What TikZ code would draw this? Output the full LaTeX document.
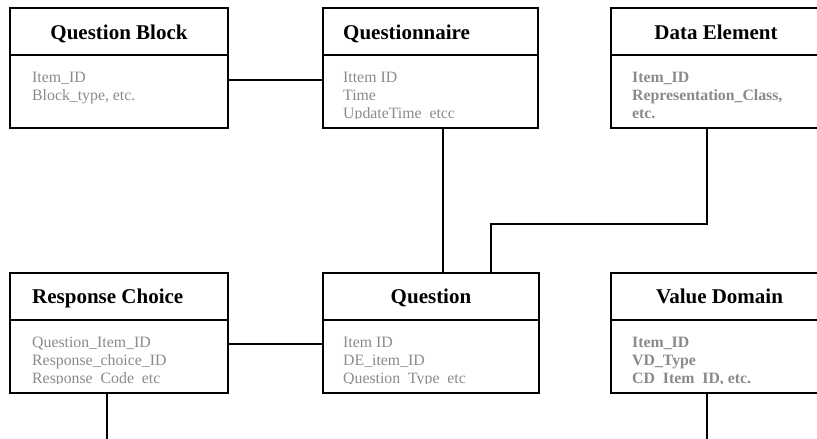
\documentclass[tikz,border=0pt]{standalone}
\usepackage{fontspec}
\setmainfont{Liberation Serif}
\definecolor{fieldgray}{RGB}{138,138,138}
\tikzset{
  entbox/.style={draw=black, line width=2pt, minimum width=#1, minimum height=120pt, inner sep=0pt},
  entbox/.default=216pt,
  enttitle/.style={font=\fontsize{21}{25}\selectfont\bfseries, inner sep=0pt, anchor=base},
  entfields/.style={font=\fontsize{15.8}{18.2}\selectfont, text=fieldgray, inner sep=0pt, align=left, anchor=base west},
  link/.style={draw=black, line width=2pt}
}
\begin{document}
\begin{tikzpicture}[x=1pt,y=-1pt]
\useasboundingbox (0,0) rectangle (817,439);
\clip (0,0) rectangle (817,439);

% entity boxes
\node[entbox=218pt] (qb) at (119,68) {};
\node[entbox=215pt] (qn) at (430.5,68) {};
\node[entbox=216pt] (de) at (719,68) {};
\node[entbox=218pt] (rc) at (119,333) {};
\node[entbox=216pt] (q)  at (431,333) {};
\node[entbox=216pt] (vd) at (719,333) {};

% header dividers
\foreach \b in {qb,qn,de,rc,q,vd}
  \draw[line width=2pt] ([yshift=-48pt]\b.north west) -- ([yshift=-48pt]\b.north east);

% titles
\node[enttitle] (qbt) at (119,39) {Question Block};
\node[enttitle, anchor=base west] (qnt) at (343,39) {Questionnaire};
\node[enttitle] (det) at (716,39) {Data Element};
\node[enttitle, anchor=base west] (rct) at (32,303) {Response Choice};
\node[enttitle] (qt) at (431,303) {Question};
\node[enttitle] (vdt) at (719.5,303) {Value Domain};

% field lists (anchored on the last line's baseline), cut off at the third line's baseline
\begin{scope}
  \clip (0,58) rectangle (817,118);
  \node[entfields] (qbf) at (32,100.7) {Item\_ID\\Block\_type, etc.};
  \node[entfields] (qnf) at (343,118.9) {Ittem ID\\Time\\UpdateTime\_etcc};
  \node[entfields, font=\fontsize{15.8}{18.2}\selectfont\bfseries] (def) at (632,118.9) {Item\_ID\\Representation\_Class,\\etc.};
\end{scope}
\begin{scope}
  \clip (0,323) rectangle (817,383);
  \node[entfields] (rcf) at (32,383.9) {Question\_Item\_ID\\Response\_choice\_ID\\Response\_Code\_etc};
  \node[entfields] (qf) at (343,383.9) {Item ID\\DE\_item\_ID\\Question\_Type\_etc};
  \node[entfields, font=\fontsize{15.8}{18.2}\selectfont\bfseries] (vdf) at (632,383.9) {Item\_ID\\VD\_Type\\CD\_Item\_ID, etc.};
\end{scope}

% relationships
\coordinate (rcout) at (107,445);
\coordinate (vdout) at (707,445);
\coordinate (debend) at (707,224);
\coordinate (qbend) at (491,224);
\draw[link] (qb.east |- 0,80) -- (qn.west |- 0,80);
\draw[link] (qn.south -| 443,0) -- (q.north -| 443,0);
\draw[link] (de.south -| debend) -- (debend) -- (qbend) -- (q.north -| qbend);
\draw[link] (rc.east |- 0,344) -- (q.west |- 0,344);
\draw[link] (rc.south -| rcout) -- (rcout);
\draw[link] (vd.south -| vdout) -- (vdout);
\end{tikzpicture}
\end{document}
